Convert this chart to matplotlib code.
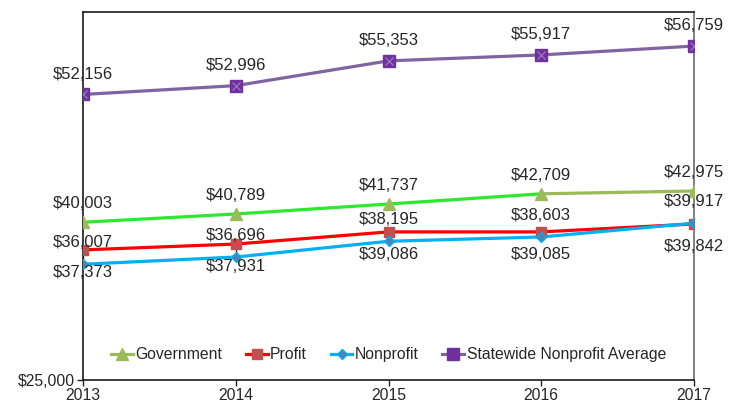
import matplotlib.pyplot as plt
from matplotlib.lines import Line2D

years = [2013, 2014, 2015, 2016, 2017]
government = [40003, 40789, 41737, 42709, 42975]
profit = [37373, 37931, 39086, 39085, 39842]
nonprofit = [36007, 36696, 38195, 38603, 39917]
statewide = [52156, 52996, 55353, 55917, 56759]
ytick_vals = [25000]
ytick_labels = ['$25,000']

plt.rcParams['font.family'] = ['Liberation Sans', 'DejaVu Sans']
txt = '#262626'

fig = plt.figure(figsize=(7.39, 4.05), dpi=100)
ax = fig.add_axes([83/739, 1-380/405, (694-83)/739, 368/405])

lw = 2.3
# high-low lines between profit and nonprofit
ax.vlines(years, nonprofit, profit, color='#333333', lw=1, zorder=2)

# government: bright green segments, last one olive
ax.plot(years[:4], government[:4], color='#2ee82e', lw=lw, zorder=3)
ax.plot(years[3:], government[3:], color='#9bbb59', lw=lw, zorder=3)
ax.plot(years, government, ls='none', marker='^', ms=8, color='#9bbb59', zorder=4)

ax.plot(years, profit, color='#ff0000', lw=lw, zorder=3)
ax.plot(years, profit, ls='none', marker='s', ms=7.5, color='#c0504d', zorder=4)

ax.plot(years, nonprofit, color='#00b0f0', lw=lw, zorder=3)
ax.plot(years, nonprofit, ls='none', marker='D', ms=5.5, mfc='#4f81bd', mec='#00b0f0', mew=1, zorder=5)

ax.plot(years, statewide, color='#8064a2', lw=lw, zorder=3)
ax.plot(years, statewide, ls='none', marker='s', ms=8, color='#7030a0', zorder=4)
ax.plot(years, statewide, ls='none', marker='x', ms=6, mew=0.8, color='#9d82c4', zorder=5)

def label(vals, dy):
    for x, v in zip(years, vals):
        ax.annotate(f'${v:,}', (x, v), xytext=(0, dy), textcoords='offset points',
                    ha='center', va='center', fontsize=12, color=txt, zorder=6)

label(statewide, 14.5)
label(government, 13.5)
label(nonprofit, 15.5)
label(profit, -16.5)

ax.set_xlim(2013, 2017)
ax.set_ylim(25000, 60000)
ax.set_xticks(years)
ax.set_xticklabels([str(y) for y in years])
ax.set_yticks(ytick_vals)
ax.set_yticklabels(ytick_labels)
ax.tick_params(axis='both', direction='out', length=4, width=1, labelsize=11.3,
               colors='#222222', labelcolor=txt, pad=2)

for s in ['left', 'bottom', 'top']:
    ax.spines[s].set_color('#1a1a1a')
    ax.spines[s].set_linewidth(1.2)
ax.spines['right'].set_color('#808080')
ax.spines['right'].set_linewidth(1.4)

handles = [
    Line2D([], [], color='#9bbb59', lw=lw, marker='^', ms=8),
    Line2D([], [], color='#ff0000', lw=lw, marker='s', ms=7.5, mfc='#c0504d', mec='#c0504d'),
    Line2D([], [], color='#00b0f0', lw=lw, marker='D', ms=5.5, mfc='#4f81bd', mec='#00b0f0'),
    Line2D([], [], color='#8064a2', lw=lw, marker='s', ms=8, mfc='#7030a0', mec='#7030a0'),
]
names = ['Government', 'Profit', 'Nonprofit', 'Statewide Nonprofit Average']
leg = ax.legend(handles, names, loc='center', bbox_to_anchor=(0.5, 0.068), ncol=4,
                frameon=False, fontsize=11.3, handlelength=1.4, handletextpad=0.15,
                columnspacing=1.5)
for t in leg.get_texts():
    t.set_color(txt)

fig.savefig('out.png', dpi=100)
